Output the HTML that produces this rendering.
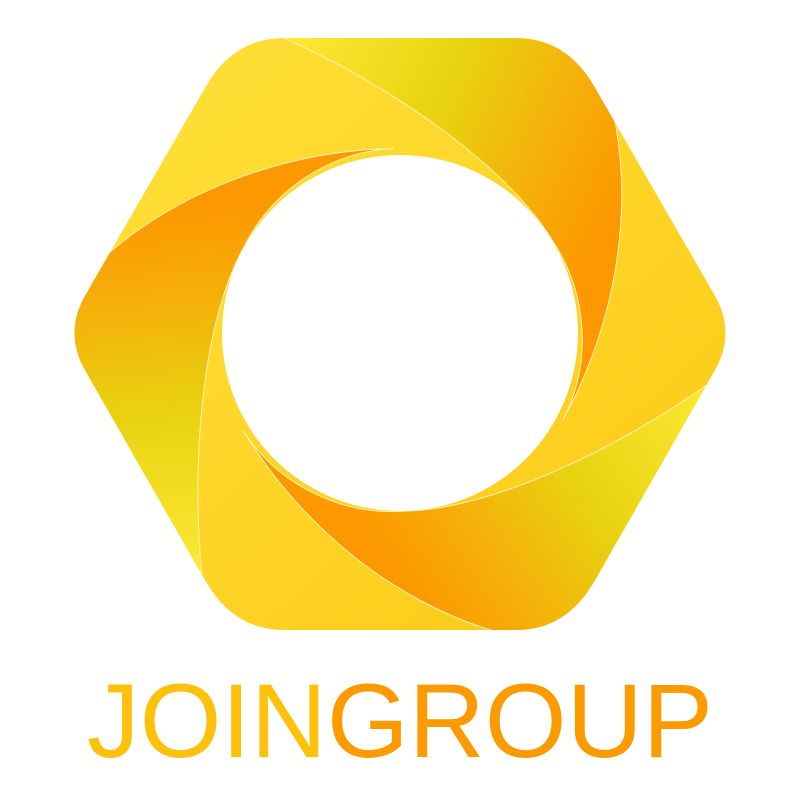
<!DOCTYPE html>
<html><head><meta charset="utf-8"><style>html,body{margin:0;padding:0;background:#fff}svg{display:block}</style></head>
<body>
<svg width="800" height="800" viewBox="0 0 800 800">
<defs>
<linearGradient id="bg" x1="0" y1="0" x2="1" y2="1">
<stop offset="0" stop-color="#fee23a"/><stop offset="1" stop-color="#fdc815"/>
</linearGradient>
<linearGradient id="blade" gradientUnits="userSpaceOnUse" x1="290" y1="40" x2="620" y2="200">
<stop offset="0" stop-color="#fde934"/><stop offset="0.45" stop-color="#e8d210"/><stop offset="0.75" stop-color="#f5b00a"/><stop offset="1" stop-color="#fd9800"/>
</linearGradient>
<clipPath id="hex"><path d="M284,38 L516,38 Q566,38 594,86 L714,294 Q737,333 714,372 L594,582 Q566,630 516,630 L284,630 Q234,630 206,582 L86,372 Q63,333 86,294 L206,86 Q234,38 284,38Z"/></clipPath>
</defs>
<g clip-path="url(#hex)">
<path d="M284,38 L516,38 Q566,38 594,86 L714,294 Q737,333 714,372 L594,582 Q566,630 516,630 L284,630 Q234,630 206,582 L86,372 Q63,333 86,294 L206,86 Q234,38 284,38Z" fill="url(#bg)"/>
<path d="M280,36 L600,20 L608,90 C640,210 612,330 563,420 A178,178 0 0 0 552,240 C510,170 400,90 280,36 Z" fill="url(#blade)" stroke="#fff3b0" stroke-width="1"/>
<path transform="rotate(120 400 333)" d="M280,36 L600,20 L608,90 C640,210 612,330 563,420 A178,178 0 0 0 552,240 C510,170 400,90 280,36 Z" fill="url(#blade)" stroke="#fff3b0" stroke-width="1"/>
<path transform="rotate(240 400 333)" d="M280,36 L600,20 L608,90 C640,210 612,330 563,420 A178,178 0 0 0 552,240 C510,170 400,90 280,36 Z" fill="url(#blade)" stroke="#fff3b0" stroke-width="1"/>
</g>
<circle cx="400" cy="333" r="178" fill="#fff"/>
<text x="87" y="757" font-family="Liberation Sans, Arial, sans-serif" font-size="105" textLength="626" lengthAdjust="spacingAndGlyphs"><tspan fill="#fcc10a">JOIN</tspan><tspan fill="#fd9a00">GROUP</tspan></text>
</svg>
</body></html>
